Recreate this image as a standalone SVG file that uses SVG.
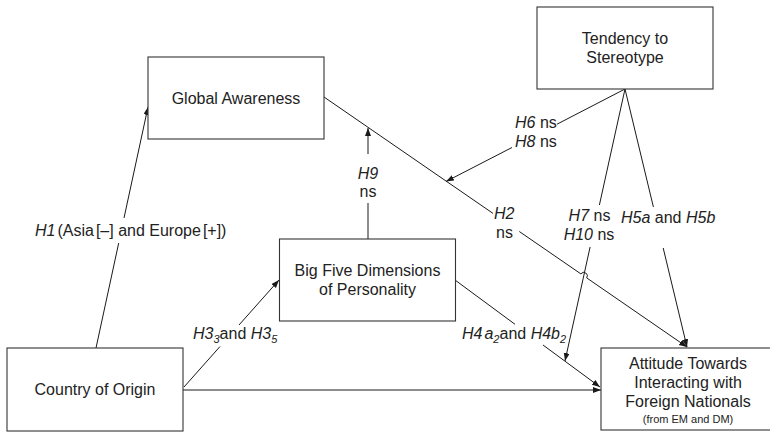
<svg xmlns="http://www.w3.org/2000/svg" width="770" height="433" viewBox="0 0 770 433">
<defs>
<marker id="arr" markerUnits="userSpaceOnUse" markerWidth="9" markerHeight="7" refX="8" refY="3" orient="auto">
<path d="M0,0 L8,3 L0,6 z" fill="#1a1a1a"/>
</marker>
<style>
.box{fill:#fff;stroke:#333;stroke-width:1.1}
.t{font-family:"Liberation Sans",Arial,sans-serif;font-size:16px;fill:#222;text-anchor:middle}
.l{font-family:"Liberation Sans",Arial,sans-serif;font-size:16px;fill:#222}
.s{font-size:11px}
.i{font-style:italic}
.c{fill:none;stroke:#1a1a1a;stroke-width:1}
</style>
</defs>
<rect width="770" height="433" fill="#fff"/>
<g id="connectors">
<path class="c" marker-end="url(#arr)" d="M96,348 L118.7,243 M124,218 L148,107"/>
<path class="c" marker-end="url(#arr)" d="M184,387 L220,346.5 M239,325 L279,280"/>
<path class="c" marker-end="url(#arr)" d="M183,390 L601,390"/>
<path class="c" marker-end="url(#arr)" d="M368,239 L368,203 M368,154 L368,128"/>
<path class="c" marker-end="url(#arr)" d="M324,97 L493,213.4 M519.3,231.5 L580.9,273.9 A3.5,3.5 0 0 1 586.7,277.9 L687,347"/>
<path class="c" marker-end="url(#arr)" d="M625,89 L557,124.2 M512,147.5 L446,181.5"/>
<path class="c" marker-end="url(#arr)" d="M625,89 L599.4,205 M590.1,247 L565,361"/>
<path class="c" marker-end="url(#arr)" d="M625,89 L653.4,207 M663.2,248 L687,347"/>
<path class="c" marker-end="url(#arr)" d="M455,280 L515,324.3 M543,345 L600,387"/>
</g>
<g id="tendency">
<rect class="box" x="537" y="7" width="176" height="82"/>
<text class="t" x="625" y="44">Tendency to</text>
<text class="t" x="625" y="63">Stereotype</text>
</g>
<g id="global">
<rect class="box" x="148" y="57" width="176" height="82"/>
<text class="t" x="236" y="104">Global Awareness</text>
</g>
<g id="bigfive">
<rect class="box" x="279.5" y="239" width="176" height="82"/>
<text class="t" x="367.5" y="275.5">Big Five Dimensions</text>
<text class="t" x="367.5" y="295">of Personality</text>
</g>
<g id="country">
<rect class="box" x="7" y="348" width="176" height="83"/>
<text class="t" x="95" y="395">Country of Origin</text>
</g>
<g id="attitude">
<rect class="box" x="601" y="348" width="180" height="82"/>
<text class="t" x="688" y="369">Attitude Towards</text>
<text class="t" x="688" y="388">Interacting with</text>
<text class="t" x="688" y="407">Foreign Nationals</text>
<text class="t" x="688" y="423" style="font-size:11px">(from EM and DM)</text>
</g>
<g id="labels">
<text class="l" x="35" y="236"><tspan class="i">H1</tspan><tspan dx="2">(Asia</tspan><tspan dx="2">[–] and Europe</tspan><tspan dx="2">[+])</tspan></text>
<text class="t" x="368" y="179"><tspan class="i">H9</tspan></text>
<text class="t" x="368" y="197">ns</text>
<text class="l" x="515" y="128"><tspan class="i">H6</tspan> ns</text>
<text class="l" x="515" y="147"><tspan class="i">H8</tspan> ns</text>
<text class="l" x="494" y="219"><tspan class="i">H2</tspan></text>
<text class="l" x="496" y="238">ns</text>
<text class="t" x="589.5" y="220.5"><tspan class="i">H7</tspan> ns</text>
<text class="t" x="589" y="240"><tspan class="i">H10</tspan> ns</text>
<text class="l" x="621" y="223"><tspan class="i">H5a</tspan> and <tspan class="i">H5b</tspan></text>
<text class="l" x="193" y="339"><tspan class="i">H3</tspan><tspan class="i s" dy="4">3</tspan><tspan dy="-4">and </tspan><tspan class="i">H3</tspan><tspan class="i s" dy="4">5</tspan></text>
<text class="l" x="462" y="339"><tspan class="i">H4</tspan><tspan class="i" dx="2">a</tspan><tspan class="i s" dy="4">2</tspan><tspan dy="-4">and </tspan><tspan class="i">H4b</tspan><tspan class="i s" dy="4">2</tspan></text>
</g>
</svg>
